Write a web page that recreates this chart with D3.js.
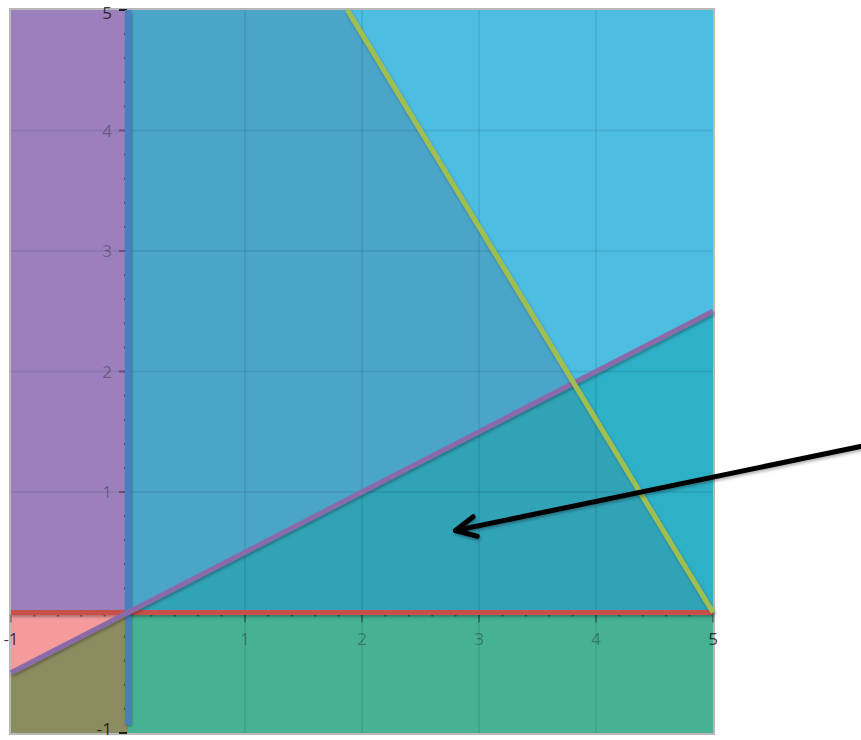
<!DOCTYPE html>
<html>
<head>
<meta charset="utf-8">
<script src="https://cdn.jsdelivr.net/npm/d3@7"></script>
<style>
  body { margin: 0; background: #fff; }
  svg { display: block; }
</style>
</head>
<body>
<script>
// feasible region sketch: x >= 0, y >= 0, y <= x/2, 8x + 5y <= 40
const xTicks = [-1, 1, 2, 3, 4, 5]
const yTicks = [-1, 1, 2, 3, 4, 5]
const gridX = [1, 2, 3, 4]
const gridY = [1, 2, 3, 4]
const minorStep = 0.2

// crossing of y = x/2 and 8x + 5y = 40
const cx = 40 / 10.5
const cy = cx / 2

const regionNames = ['purple', 'green', 'pink', 'olive', 'mid', 'light', 'teal', 'tealRight']
const regionPoints = [
    [[-1, 0], [0, 0], [0, 5], [-1, 5]],
    [[0, -1], [5, -1], [5, 0], [0, 0]],
    [[-1, -0.5], [0, 0], [-1, 0]],
    [[-1, -1], [0, -1], [0, 0], [-1, -0.5]],
    [[0, 0], [cx, cy], [1.875, 5], [0, 5]],
    [[1.875, 5], [5, 5], [5, 2.5], [cx, cy]],
    [[0, 0], [5, 0], [cx, cy]],
    [[cx, cy], [5, 2.5], [5, 0]]
]

const lineNames = ['xAxis0', 'yAxis0', 'half', 'budget']
const linePoints = [
    [[-1, 0], [5, 0]],
    [[0, 5], [0, -0.93]],
    [[-1, -0.5], [5, 2.5]],
    [[1.875, 5], [5, 0]]
]

const arrowPoints = [[6.27, 1.38], [2.8, 0.68]]

const regionColor = {
    purple: '#9b80bd', green: '#47b194', pink: '#f59b9b', olive: '#8b8c5f',
    mid: '#4aa5c9', light: '#4dbde1', teal: '#31a3b7', tealRight: '#2eb0c6'
}
const lineColor = { xAxis0: '#c9504c', yAxis0: '#4a7fc1', half: '#8b6aa9', budget: '#a1bf50' }
const lineWidth = { xAxis0: 5, yAxis0: 6, half: 5, budget: 5 }

const width = 861, height = 740
const x = d3.scaleLinear().domain([-1, 5]).range([11, 713])
const y = d3.scaleLinear().domain([-1, 5]).range([733, 10])

const svg = d3.select('body').append('svg')
    .attr('width', width)
    .attr('height', height)

const defs = svg.append('defs')
defs.append('filter').attr('id', 'shadow')
    .attr('filterUnits', 'userSpaceOnUse')
    .attr('x', 0).attr('y', 0).attr('width', width).attr('height', height)
    .append('feDropShadow')
    .attr('dx', 1).attr('dy', 2).attr('stdDeviation', 1.5)
    .attr('flood-color', '#000').attr('flood-opacity', 0.3)
defs.append('marker')
    .attr('id', 'head')
    .attr('markerUnits', 'userSpaceOnUse')
    .attr('viewBox', '-30 -15 35 30')
    .attr('markerWidth', 35).attr('markerHeight', 30)
    .attr('refX', 0).attr('refY', 0)
    .attr('orient', 'auto')
    .append('path')
    .attr('d', 'M-20,-10 L0,0 L-20,10')
    .attr('fill', 'none')
    .attr('stroke', '#000')
    .attr('stroke-width', 5)
    .attr('stroke-linecap', 'round')
    .attr('stroke-linejoin', 'round')

const toPath = pts => 'M' + pts.map(p => `${x(p[0])},${y(p[1])}`).join('L') + 'Z'

// frame
svg.append('rect')
    .attr('x', x(-1) - 1).attr('y', y(5) - 1)
    .attr('width', x(5) - x(-1) + 2).attr('height', y(-1) - y(5) + 2)
    .attr('fill', '#fff')
    .attr('stroke', '#b8b8b8')
    .attr('stroke-width', 2)

svg.selectAll('.region')
    .data(regionPoints)
    .enter().append('path')
    .attr('class', 'region')
    .attr('d', toPath)
    .attr('fill', (d, i) => regionColor[regionNames[i]])

// grid
const grid = svg.append('g')
    .attr('stroke', '#000')
    .attr('stroke-opacity', 0.07)
    .attr('stroke-width', 2)
grid.selectAll('.gx').data(gridX).enter().append('line')
    .attr('x1', d => x(d)).attr('x2', d => x(d))
    .attr('y1', y(5)).attr('y2', y(-1))
grid.selectAll('.gy').data(gridY).enter().append('line')
    .attr('y1', d => y(d)).attr('y2', d => y(d))
    .attr('x1', x(-1)).attr('x2', x(5))

// minor ticks along the axes
const minorX = d3.range(-1, 5.001, minorStep).filter(v => Math.abs(v - Math.round(v)) > 1e-6)
const minorY = d3.range(-1, 5.001, minorStep).filter(v => Math.abs(v - Math.round(v)) > 1e-6)
svg.append('g').selectAll('rect').data(minorX).enter().append('rect')
    .attr('x', d => x(d) - 1).attr('y', y(0) + 2)
    .attr('width', 2).attr('height', 2)
    .attr('fill', '#000').attr('fill-opacity', 0.4)
svg.append('g').selectAll('rect').data(minorY).enter().append('rect')
    .attr('x', x(0) - 4).attr('y', d => y(d) - 1)
    .attr('width', 2).attr('height', 2)
    .attr('fill', '#000').attr('fill-opacity', 0.4)

// major ticks and labels
const tickG = svg.append('g').attr('fill', '#000')
tickG.selectAll('.tx').data(xTicks).enter().append('rect')
    .attr('x', d => x(d) - 1).attr('y', y(0) + 2)
    .attr('width', 2).attr('height', 8)
    .attr('fill-opacity', 0.3)
tickG.selectAll('.ty').data(yTicks).enter().append('rect')
    .attr('x', x(0) - 9).attr('y', d => y(d) - 1)
    .attr('width', 8).attr('height', 2)
    .attr('fill-opacity', d => d === 5 || d === -1 ? 0.8 : 0.3)

svg.append('g').selectAll('text').data(xTicks).enter().append('text')
    .attr('x', d => x(d))
    .attr('y', y(0) + 32)
    .attr('text-anchor', 'middle')
    .style('font-family', '"Open Sans", sans-serif')
    .style('font-size', '17px')
    .style('fill', '#000')
    .style('fill-opacity', d => d === 5 || d === -1 ? 0.75 : 0.3)
    .text(d => d)
svg.append('g').selectAll('text').data(yTicks).enter().append('text')
    .attr('x', x(0) - 16)
    .attr('y', d => d === -1 ? y(d) + 2 : d === 5 ? y(d) + 9 : y(d) + 6)
    .attr('text-anchor', 'end')
    .style('font-family', '"Open Sans", sans-serif')
    .style('font-size', '17px')
    .style('fill', '#000')
    .style('fill-opacity', d => d === 5 || d === -1 ? 0.75 : 0.33)
    .text(d => d)

// boundary lines
svg.selectAll('.boundary')
    .data(linePoints)
    .enter().append('line')
    .attr('class', 'boundary')
    .attr('x1', d => x(d[0][0])).attr('y1', d => y(d[0][1]))
    .attr('x2', d => x(d[1][0])).attr('y2', d => y(d[1][1]))
    .attr('stroke', (d, i) => lineColor[lineNames[i]])
    .attr('stroke-width', (d, i) => lineWidth[lineNames[i]])
    .attr('filter', 'url(#shadow)')

// annotation arrow
svg.append('line')
    .attr('x1', x(arrowPoints[0][0])).attr('y1', y(arrowPoints[0][1]))
    .attr('x2', x(arrowPoints[1][0])).attr('y2', y(arrowPoints[1][1]))
    .attr('stroke', '#000')
    .attr('stroke-width', 5)
    .attr('stroke-linecap', 'round')
    .attr('marker-end', 'url(#head)')
    .attr('filter', 'url(#shadow)')
</script>
</body>
</html>
